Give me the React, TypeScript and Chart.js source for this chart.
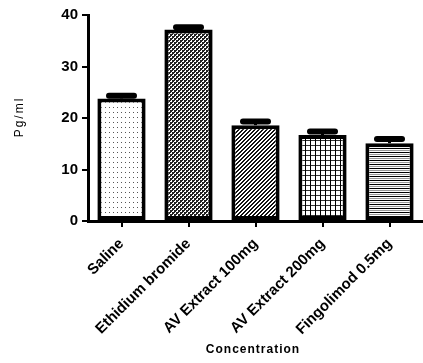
import React, { useEffect, useRef } from "react";
import { Chart, registerables } from "chart.js";

Chart.register(...registerables);

const categories = ["Saline", "Ethidium bromide", "AV Extract 100mg", "AV Extract 200mg", "Fingolimod 0.5mg"];
const values = [23.8, 37.2, 18.6, 16.7, 15.1];
const errors = [0.5, 0.4, 0.7, 0.7, 0.8];
const yTicks = [0, 10, 20, 30, 40];
const yTitle = "Pg/ml";
const xTitle = "Concentration";

function makePattern(kind: string): CanvasPattern | string {
  const c = document.createElement("canvas");
  const ctx = c.getContext("2d");
  if (!ctx) return "#fff";
  if (kind === "dots") {
    c.width = 4; c.height = 5;
    ctx.fillStyle = "#fff"; ctx.fillRect(0, 0, 4, 5);
    ctx.fillStyle = "#555"; ctx.fillRect(1, 2, 1, 1);
  } else if (kind === "checker") {
    c.width = 4; c.height = 4;
    ctx.fillStyle = "#fff"; ctx.fillRect(0, 0, 4, 4);
    ctx.fillStyle = "#222";
    ctx.fillRect(0, 0, 2, 2); ctx.fillRect(2, 2, 2, 2);
    ctx.fillRect(0, 2, 1, 1); ctx.fillRect(2, 0, 1, 1);
  } else if (kind === "diag") {
    c.width = 4; c.height = 4;
    ctx.fillStyle = "#fff"; ctx.fillRect(0, 0, 4, 4);
    ctx.fillStyle = "#111";
    for (let i = 0; i < 4; i++) {
      ctx.fillRect(3 - i, i, 1, 1);
      ctx.fillRect((4 - i) % 4, i, 1, 1);
    }
  } else if (kind === "grid") {
    c.width = 5; c.height = 5;
    ctx.fillStyle = "#fff"; ctx.fillRect(0, 0, 5, 5);
    ctx.fillStyle = "#333"; ctx.fillRect(0, 0, 5, 1);
    ctx.fillStyle = "#000"; ctx.fillRect(0, 0, 1, 5);
  } else {
    c.width = 4; c.height = 4;
    ctx.fillStyle = "#fff"; ctx.fillRect(0, 0, 4, 4);
    ctx.fillStyle = "#000"; ctx.fillRect(0, 0, 4, 1);
    ctx.fillStyle = "#999"; ctx.fillRect(0, 2, 4, 1);
  }
  const p = document.createElement("canvas").getContext("2d")!.createPattern(c, "repeat");
  return p || "#fff";
}

const patternKinds = ["dots", "checker", "diag", "grid", "hlines"];

const errorBarPlugin = {
  id: "errorBars",
  afterDatasetsDraw(chart: any) {
    const ctx = chart.ctx;
    const meta = chart.getDatasetMeta(0);
    const ys = chart.scales.y;
    ctx.save();
    ctx.strokeStyle = "#000";
    meta.data.forEach((bar: any, i: number) => {
      const x = bar.x;
      const yv = ys.getPixelForValue(values[i]);
      const ye = ys.getPixelForValue(values[i] + errors[i]);
      ctx.lineWidth = 3;
      ctx.lineCap = "butt";
      ctx.beginPath();
      ctx.moveTo(x, yv);
      ctx.lineTo(x, ye);
      ctx.stroke();
      ctx.lineWidth = 6;
      ctx.lineCap = "round";
      ctx.beginPath();
      ctx.moveTo(x - 12.5, ye);
      ctx.lineTo(x + 12.5, ye);
      ctx.stroke();
    });
    ctx.restore();
  },
};

const titlesPlugin = {
  id: "axisTitles",
  afterDraw(chart: any) {
    const ctx = chart.ctx;
    ctx.save();
    ctx.fillStyle = "#000";
    ctx.textAlign = "center";
    ctx.textBaseline = "middle";
    // y title
    ctx.save();
    ctx.font = "12px 'Liberation Sans', Arial, sans-serif";
    (ctx as any).letterSpacing = "2px";
    ctx.translate(20, 117);
    ctx.rotate(-Math.PI / 2);
    ctx.fillText(yTitle, 0, 0);
    ctx.restore();
    // x title
    ctx.font = "bold 12px 'Liberation Sans', Arial, sans-serif";
    (ctx as any).letterSpacing = "1px";
    ctx.fillText(xTitle, 253, 350);
    ctx.restore();
  },
};

export default function App() {
  const ref = useRef<HTMLCanvasElement>(null);
  useEffect(() => {
    if (!ref.current) return;
    const chart = new Chart(ref.current, {
      type: "bar",
      data: {
        labels: categories,
        datasets: [
          {
            data: values,
            backgroundColor: patternKinds.map((k) => makePattern(k)) as any,
            borderColor: "#000",
            borderWidth: 4,
            borderSkipped: false,
            barPercentage: 0.72,
            categoryPercentage: 1,
          },
        ],
      },
      options: {
        responsive: false,
        animation: false,
        devicePixelRatio: 1,
        layout: { padding: { top: 15, left: 0, right: 0, bottom: 0 } },
        plugins: { legend: { display: false }, tooltip: { enabled: false } },
        scales: {
          x: {
            offset: true,
            grid: {
              offset: false,
              drawOnChartArea: false,
              drawTicks: true,
              tickLength: 6,
              lineWidth: 2,
              color: "#000",
            },
            border: { display: true, color: "#000", width: 3 },
            ticks: {
              minRotation: 45,
              maxRotation: 45,
              autoSkip: false,
              padding: 8,
              color: "#000",
              font: { family: "'Liberation Sans', Arial, sans-serif", size: 15, weight: "bold" },
            },
            afterFit: (s: any) => { s.height = 142; },
          },
          y: {
            min: 0,
            max: 40,
            afterBuildTicks: (s: any) => { s.ticks = yTicks.map((v) => ({ value: v })); },
            grid: {
              drawOnChartArea: false,
              drawTicks: true,
              tickLength: 6,
              lineWidth: 2,
              color: "#000",
            },
            border: { display: true, color: "#000", width: 3 },
            ticks: {
              padding: 4,
              color: "#000",
              font: { family: "'Liberation Sans', Arial, sans-serif", size: 15, weight: "bold" },
            },
            afterFit: (s: any) => { s.width = 88; },
          },
        },
      },
      plugins: [errorBarPlugin, titlesPlugin],
    });
    return () => chart.destroy();
  }, []);
  return (
    <div style={{ position: "absolute", left: 0, top: 0, width: 423, height: 363, background: "#fff" }}>
      <canvas ref={ref} width={423} height={363} style={{ display: "block" }} />
    </div>
  );
}
